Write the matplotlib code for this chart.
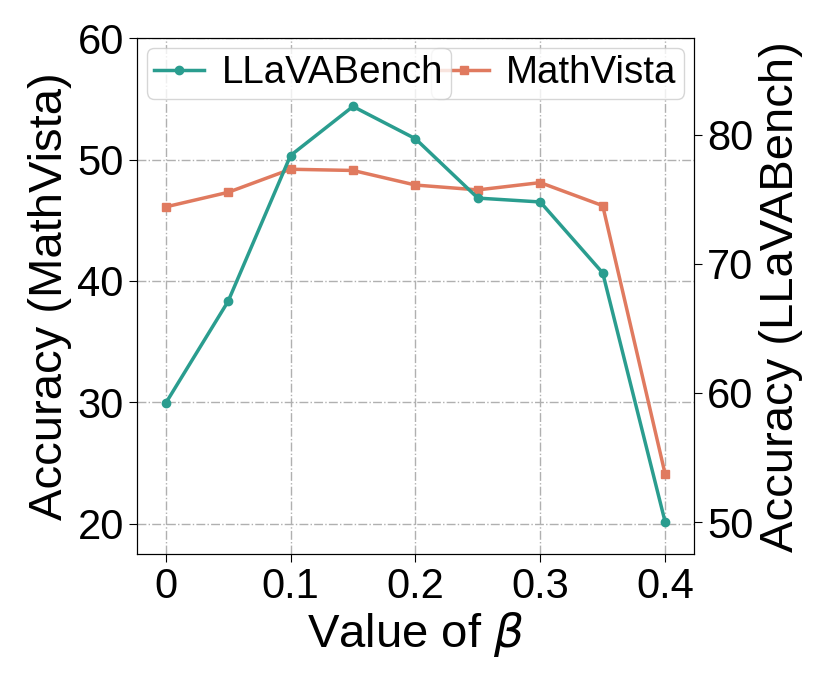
import matplotlib
matplotlib.use("Agg")
import matplotlib.pyplot as plt

plt.rcParams['font.family'] = ['Liberation Sans', 'DejaVu Sans']

beta = [0, 0.05, 0.1, 0.15, 0.2, 0.25, 0.3, 0.35, 0.4]
mathvista = [46.1, 47.3, 49.2, 49.1, 47.9, 47.5, 48.1, 46.2, 24.1]
llavabench = [59.2, 67.1, 78.4, 82.2, 79.7, 75.1, 74.8, 69.3, 50.0]
xticks = [0, 0.1, 0.2, 0.3, 0.4]
xticklabels = ['0', '0.1', '0.2', '0.3', '0.4']

green = '#2a9d8f'
orange = '#e07a5f'

fig = plt.figure(figsize=(8.3, 6.92), dpi=100)
ax1 = fig.add_axes([0.165, 0.199, 0.671, 0.746])
ax2 = ax1.twinx()

# MathVista on the left axis, LLaVABench on the right
l1, = ax1.plot(beta, mathvista, color=orange, marker='s', lw=2.5, ms=6, label='MathVista')
l2, = ax2.plot(beta, llavabench, color=green, marker='o', lw=2.5, ms=6, label='LLaVABench')

ax1.set_xlim(-0.023, 0.423)
ax1.set_ylim(17.5, 60)
ax2.set_ylim(47.5, 87.5)
ax1.set_yticks([20, 30, 40, 50, 60])
ax2.set_yticks([50, 60, 70, 80])
ax1.set_xticks(xticks)
ax1.set_xticklabels(xticklabels)

ax1.grid(True, linestyle='-.', color='#b0b0b0', lw=1)
ax1.tick_params(labelsize=30, length=6)
ax2.tick_params(labelsize=30, length=6)

ax1.set_xlabel(r'Value of $\beta$', fontsize=34, labelpad=2)
ax1.set_ylabel('Accuracy (MathVista)', fontsize=34, labelpad=4)
ax2.set_ylabel('Accuracy (LLaVABench)', fontsize=34, labelpad=4)

ax1.legend(handles=[l1], loc='upper right', fontsize=27.75, handlelength=1.3,
           borderpad=0.2, handletextpad=0.45, borderaxespad=0.25)
ax2.legend(handles=[l2], loc='upper left', fontsize=27.75, handlelength=1.3,
           borderpad=0.2, handletextpad=0.45, borderaxespad=0.25)

fig.savefig('out.png', dpi=100)
